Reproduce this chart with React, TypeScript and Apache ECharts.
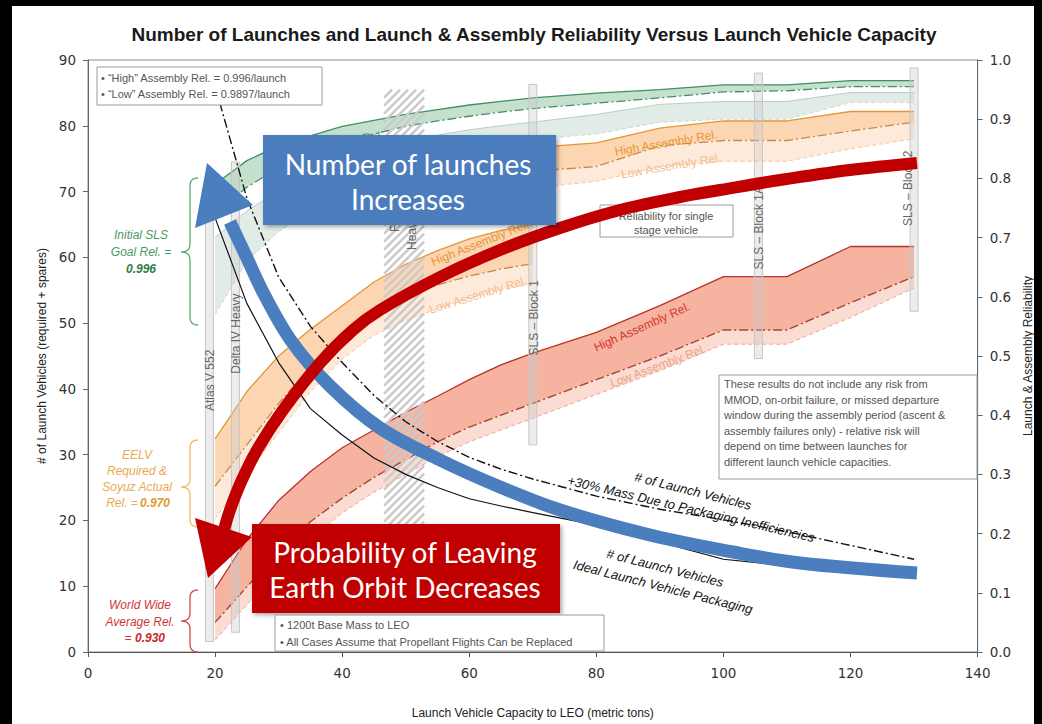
import React, { useEffect, useRef } from 'react';
import * as echarts from 'echarts';

// ---------------- DATA ----------------
const capacity = [20, 25, 30, 35, 40, 45, 50, 55, 60, 65, 70, 80, 90, 100, 110, 120, 130];
// left axis: number of launch vehicles
const launchesIdeal = [66, 53, 44, 37, 33, 29.5, 27, 25, 23.3, 22.2, 21.2, 19.3, 16.7, 14.1, 13.1, 12.1, 12.1];
const launchesPackaging = [86, 69, 57, 49.5, 44, 39, 35, 32, 29.6, 27.8, 26.3, 23.7, 21.7, 20.1, 18.3, 16.2, 14.1];
// right axis: reliability
const greenHigh = [0.79, 0.83, 0.855, 0.872, 0.888, 0.898, 0.908, 0.916, 0.924, 0.93, 0.936, 0.944, 0.95, 0.958, 0.958, 0.965, 0.965];
const greenLow = [0.74, 0.785, 0.818, 0.842, 0.86, 0.875, 0.888, 0.897, 0.905, 0.912, 0.918, 0.927, 0.936, 0.946, 0.948, 0.955, 0.955];
const greenBandTop = [0.7, 0.745, 0.78, 0.808, 0.83, 0.848, 0.862, 0.873, 0.882, 0.889, 0.895, 0.908, 0.925, 0.93, 0.93, 0.945, 0.945];
const greenBandBottom = [0.57, 0.66, 0.71, 0.745, 0.775, 0.8, 0.82, 0.835, 0.848, 0.858, 0.866, 0.875, 0.895, 0.9, 0.9, 0.928, 0.928];

const orangeLeftCapacity = [20, 25, 30, 35, 40, 45, 50, 55, 60, 65, 70];
const orangeLeftHigh = [0.36, 0.44, 0.5, 0.545, 0.585, 0.625, 0.655, 0.678, 0.698, 0.712, 0.722];
const orangeLeftLow = [0.28, 0.35, 0.42, 0.48, 0.53, 0.57, 0.6, 0.62, 0.635, 0.647, 0.656];
const orangeLeftLowBottom = [0.225, 0.3, 0.37, 0.44, 0.495, 0.535, 0.56, 0.58, 0.598, 0.612, 0.622];

const orangeRightCapacity = [70, 80, 90, 100, 110, 120, 130];
const orangeRightHigh = [0.852, 0.86, 0.885, 0.897, 0.897, 0.913, 0.913];
const orangeRightLow = [0.812, 0.82, 0.855, 0.864, 0.864, 0.88, 0.895];
const orangeRightLowBottom = [0.784, 0.795, 0.82, 0.829, 0.829, 0.85, 0.867];

const redHigh = [0.107, 0.19, 0.256, 0.305, 0.345, 0.375, 0.405, 0.432, 0.46, 0.485, 0.505, 0.54, 0.585, 0.634, 0.634, 0.685, 0.685];
const redLow = [0.05, 0.11, 0.17, 0.22, 0.26, 0.295, 0.325, 0.355, 0.38, 0.4, 0.42, 0.46, 0.5, 0.544, 0.544, 0.59, 0.634];
const redLowBottom = [0.02, 0.08, 0.14, 0.19, 0.235, 0.27, 0.3, 0.33, 0.355, 0.375, 0.395, 0.435, 0.475, 0.52, 0.52, 0.565, 0.615];

const vehicleNames = ['Atlas V 552', 'Delta IV Heavy', 'SLS – Block 1', 'SLS – Block 1A', 'SLS – Block 2'];
const vehicleCapacity = [19.1, 23.2, 70, 105.5, 130];
const falconHeavyRange = [46.6, 52.9];

// ---------------- LAYOUT (not data) ----------------
const vehicleBarSpan = [[1.6, 66.5], [3, 74.5], [31.5, 86.3], [44.6, 88], [51.8, 88.8]];
const vehicleLabelY = [41.3, 48.4, 50.8, 64.5, 70.5];
const vehicleLabelDx = [1, 1, 1, 1, -6];

const FONT = '"Liberation Sans", Arial, sans-serif';

const pairs = (xs: number[], ys: number[]) => xs.map((x, i) => [x, ys[i]]);

function bandSeries(xs: number[], up: number[], lo: number[], color: string, z: number) {
  const rows = xs.map((x, i) => [x, up[i], lo[i]]);
  return {
    type: 'custom',
    xAxisIndex: 0,
    yAxisIndex: 1,
    z,
    silent: true,
    clip: false,
    data: rows,
    encode: { x: 0, y: [1, 2] },
    renderItem: (params: any, api: any) => {
      if (params.dataIndex !== 0) return null;
      const top = rows.map((r) => api.coord([r[0], r[1]]));
      const bot = rows.map((r) => api.coord([r[0], r[2]])).reverse();
      return { type: 'polygon', shape: { points: top.concat(bot) }, style: { fill: color } };
    },
  };
}

function lineSeries(xs: number[], ys: number[], color: string, width: number, type: any, yAxisIndex: number, z: number) {
  return {
    type: 'line',
    data: pairs(xs, ys),
    yAxisIndex,
    symbol: 'none',
    showSymbol: false,
    silent: true,
    z,
    lineStyle: { color, width, type },
  };
}

const DASHDOT = [9, 3, 2, 3];
const DASH = [4, 3];

function brace(x: number, y0: number, y1: number, ym: number, color: string) {
  const pts: number[][] = [];
  const q = (p0: number[], c: number[], p1: number[]) => {
    for (let i = 0; i <= 8; i++) {
      const t = i / 8;
      pts.push([
        (1 - t) * (1 - t) * p0[0] + 2 * (1 - t) * t * c[0] + t * t * p1[0],
        (1 - t) * (1 - t) * p0[1] + 2 * (1 - t) * t * c[1] + t * t * p1[1],
      ]);
    }
  };
  q([x + 8, y0], [x, y0], [x, y0 + 8]);
  q([x, ym - 8], [x, ym], [x - 9, ym]);
  q([x - 9, ym], [x, ym], [x, ym + 8]);
  q([x, y1 - 8], [x, y1], [x + 8, y1]);
  return { type: 'polyline', z: 5, shape: { points: pts }, style: { stroke: color, lineWidth: 1.3, fill: null } };
}

function txt(x: number, y: number, text: string, opts: any = {}) {
  const align = opts.align || 'center';
  const valign = opts.valign || 'middle';
  return {
    type: 'text',
    x,
    y,
    z: opts.z ?? 6,
    rotation: opts.rotation || 0,
    style: {
      text,
      fill: opts.color || '#555',
      font: `${opts.style || 'normal'} ${opts.weight || 'normal'} ${opts.size || 11}px ${opts.family || FONT}`,
      textAlign: align,
      textVerticalAlign: valign,
      align,
      verticalAlign: valign,
    },
  };
}

function box(x: number, y: number, w: number, h: number, z: number, fill = '#fff', stroke: any = '#9a9a9a', extra: any = {}) {
  return { type: 'rect', z, shape: { x, y, width: w, height: h }, style: { fill, stroke, lineWidth: 1, ...extra } };
}

function buildOption() {
  const series: any[] = [];
  // bands
  series.push(bandSeries(capacity, greenBandTop, greenBandBottom, '#e1ece6', 1));
  series.push(bandSeries(capacity, greenHigh, greenLow, '#c3e1cd', 1));
  series.push(bandSeries(orangeLeftCapacity, orangeLeftLow, orangeLeftLowBottom, '#feeadb', 1));
  series.push(bandSeries(orangeLeftCapacity, orangeLeftHigh, orangeLeftLow, '#fcd6b2', 1));
  series.push(bandSeries(orangeRightCapacity, orangeRightLow, orangeRightLowBottom, '#feeadb', 1));
  series.push(bandSeries(orangeRightCapacity, orangeRightHigh, orangeRightLow, '#fcd6b2', 1));
  series.push(bandSeries(capacity, redLow, redLowBottom, '#fbdcd2', 1));
  series.push(bandSeries(capacity, redHigh, redLow, '#f6b3a0', 1));
  // band lines
  series.push(lineSeries(capacity, greenHigh, '#3f8f5f', 1.3, 'solid', 1, 2));
  series.push(lineSeries(capacity, greenLow, '#4d8a68', 1.3, DASHDOT, 1, 2));
  series.push(lineSeries(capacity, greenBandTop, '#b5cfc1', 1, 'solid', 1, 2));
  series.push(lineSeries(capacity, greenBandBottom, '#c8dad0', 1, DASH, 1, 2));
  series.push(lineSeries(orangeLeftCapacity, orangeLeftHigh, '#e3963a', 1.3, 'solid', 1, 2));
  series.push(lineSeries(orangeLeftCapacity, orangeLeftLow, '#c58a4a', 1.3, DASHDOT, 1, 2));
  series.push(lineSeries(orangeLeftCapacity, orangeLeftLowBottom, '#f5c59c', 1, DASH, 1, 2));
  series.push(lineSeries(orangeRightCapacity, orangeRightHigh, '#e3963a', 1.3, 'solid', 1, 2));
  series.push(lineSeries(orangeRightCapacity, orangeRightLow, '#c58a4a', 1.3, DASHDOT, 1, 2));
  series.push(lineSeries(orangeRightCapacity, orangeRightLowBottom, '#f5c59c', 1, DASH, 1, 2));
  series.push(lineSeries(capacity, redHigh, '#b8322a', 1.3, 'solid', 1, 2));
  series.push(lineSeries(capacity, redLow, '#a8443a', 1.4, DASHDOT, 1, 2));
  series.push(lineSeries(capacity, redLowBottom, '#f0a592', 1, DASH, 1, 2));

  // vehicle bars
  const vrows = vehicleCapacity.map((c, i) => [c, vehicleBarSpan[i][0], vehicleBarSpan[i][1], vehicleLabelY[i], i]);
  series.push({
    type: 'custom',
    xAxisIndex: 0,
    yAxisIndex: 0,
    z: 3,
    silent: true,
    clip: false,
    data: vrows,
    encode: { x: 0, y: [1, 2] },
    renderItem: (params: any, api: any) => {
      const r = vrows[params.dataIndex];
      const pTop = api.coord([r[0], r[2]]);
      const pBot = api.coord([r[0], r[1]]);
      const pLab = api.coord([r[0], r[3]]);
      return {
        type: 'group',
        children: [
          {
            type: 'rect',
            shape: { x: pTop[0] - 4, y: pTop[1], width: 8, height: pBot[1] - pTop[1] },
            style: { fill: 'rgba(200,200,200,0.35)', stroke: '#c6c6c6', lineWidth: 1 },
          },
          {
            type: 'text',
            x: pLab[0] + vehicleLabelDx[r[4]],
            y: pLab[1],
            rotation: Math.PI / 2,
            style: {
              text: vehicleNames[r[4]],
              fill: '#666',
              font: `normal 12px ${FONT}`,
              textAlign: 'center',
              textVerticalAlign: 'middle',
              align: 'center',
              verticalAlign: 'middle',
            },
          },
        ],
      };
    },
  });
  // Falcon Heavy hatched range
  const frow = [[falconHeavyRange[0], falconHeavyRange[1], 8, 85.5]];
  series.push({
    type: 'custom',
    xAxisIndex: 0,
    yAxisIndex: 0,
    z: 3,
    silent: true,
    clip: false,
    data: frow,
    encode: { x: [0, 1], y: [2, 3] },
    renderItem: (params: any, api: any) => {
      const r = frow[params.dataIndex];
      const a = api.coord([r[0], r[3]]);
      const b = api.coord([r[1], r[2]]);
      const x0 = a[0], y0 = a[1], x1 = b[0], y1 = b[1];
      const children: any[] = [];
      for (let c = x0 + y0; c <= x1 + y1; c += 8) {
        const xa = Math.max(x0, c - y1);
        const xb = Math.min(x1, c - y0);
        if (xa < xb) {
          children.push({
            type: 'line',
            shape: { x1: xa, y1: c - xa, x2: xb, y2: c - xb },
            style: { stroke: '#cacaca', lineWidth: 2.5 },
          });
        }
      }
      return { type: 'group', children };
    },
  });

  // launch vehicle count lines
  series.push(lineSeries(capacity, launchesIdeal, '#111', 1.2, 'solid', 0, 4));
  series.push(lineSeries(capacity, launchesPackaging, '#111', 1.4, DASHDOT, 0, 4));

  const bluePts = [
    [917, 573], [800, 563], [733, 552], [650, 535], [560, 510], [500, 487], [440, 460], [380, 428],
    [330, 386], [292, 342], [265, 296], [246, 256], [230, 222],
  ];
  const redPts = [
    [917, 163], [850, 170], [780, 180], [720, 190], [680, 197], [620, 210], [560, 228], [500, 250],
    [440, 277], [380, 310], [353, 330], [320, 363], [283, 410], [257, 450], [241, 482], [230, 510], [224, 530],
  ];

  const graphic: any[] = [
    { type: 'rect', z: -10, shape: { x: 12, y: 6, width: 1022, height: 718 }, style: { fill: '#fff' } },
    txt(534, 34, 'Number of Launches and Launch & Assembly Reliability Versus Launch Vehicle Capacity', {
      size: 19, weight: 'bold', color: '#1a1a1a', z: 6,
    }),
    // band labels
    txt(642, 327, 'High Assembly Rel.', { color: '#d03a2a', size: 12, rotation: 0.42, z: 5 }),
    txt(658, 366, 'Low Assembly Rel.', { color: '#eea08a', size: 12, rotation: 0.36, z: 5 }),
    txt(666, 143, 'High Assembly Rel.', { color: '#e8962e', size: 12, rotation: 0.17, z: 5 }),
    txt(671, 166, 'Low Assembly Rel.', { color: '#f5bc8a', size: 12, rotation: 0.17, z: 5 }),
    txt(480, 243, 'High Assembly Rel.', { color: '#e8962e', size: 12, rotation: 0.38, z: 5 }),
    txt(478, 295, 'Low Assembly Rel.', { color: '#f5bc8a', size: 12, rotation: 0.3, z: 5 }),
    txt(332, 142, 'High Assembly Rel.', { color: '#3d8a5a', size: 12, rotation: 0.12, z: 5 }),
    // Falcon Heavy
    txt(395, 232, 'Falcon', { color: '#666', size: 12, rotation: Math.PI / 2, align: 'left', z: 5 }),
    txt(412, 250, 'Heavy', { color: '#666', size: 12, rotation: Math.PI / 2, align: 'left', z: 5 }),
    // black line labels
    txt(693, 491, '# of Launch Vehicles', { color: '#111', size: 13, style: 'italic', rotation: -0.245, z: 6 }),
    txt(691, 509, '+30% Mass Due to Packaging Inefficiencies', { color: '#111', size: 13, style: 'italic', rotation: -0.23, z: 6 }),
    txt(665, 568, '# of Launch Vehicles', { color: '#111', size: 13, style: 'italic', rotation: -0.25, z: 6 }),
    txt(663, 587, 'Ideal Launch Vehicle Packaging', { color: '#111', size: 13, style: 'italic', rotation: -0.25, z: 6 }),
    // braces
    brace(190, 178, 325, 252, '#5aa872'),
    brace(190, 440, 527, 487, '#f0b860'),
    brace(190, 590, 652, 621, '#d04848'),
    txt(141, 235, 'Initial SLS', { color: '#4a9a66', size: 12, style: 'italic' }),
    txt(141, 252, 'Goal Rel. =', { color: '#4a9a66', size: 12, style: 'italic' }),
    txt(141, 269, '0.996', { color: '#2e7d46', size: 12, style: 'italic', weight: 'bold' }),
    txt(137, 455, 'EELV', { color: '#e8aa50', size: 12, style: 'italic' }),
    txt(137, 471, 'Required &', { color: '#e8aa50', size: 12, style: 'italic' }),
    txt(137, 487, 'Soyuz Actual', { color: '#e8aa50', size: 12, style: 'italic' }),
    txt(122, 503, 'Rel. =', { color: '#e8aa50', size: 12, style: 'italic' }),
    txt(155, 503, '0.970', { color: '#e09a2a', size: 12, style: 'italic', weight: 'bold' }),
    txt(140, 605, 'World Wide', { color: '#d03838', size: 12, style: 'italic' }),
    txt(140, 622, 'Average Rel.', { color: '#d03838', size: 12, style: 'italic' }),
    txt(128, 638, '=', { color: '#d03838', size: 12, style: 'italic' }),
    txt(150, 638, '0.930', { color: '#c82828', size: 12, style: 'italic', weight: 'bold' }),
    // single stage box
    box(600, 205, 133, 32, 6),
    txt(666, 216, 'Reliability for single', { size: 11, color: '#555', z: 6 }),
    txt(666, 230, 'stage vehicle', { size: 11, color: '#555', z: 6 }),
    // note box
    box(719, 375, 258, 104, 6),
    txt(724, 384, 'These results do not include any risk from', { size: 11, align: 'left', z: 6 }),
    txt(724, 399.5, 'MMOD, on-orbit failure, or missed departure', { size: 11, align: 'left', z: 6 }),
    txt(724, 415, 'window during the assembly period (ascent &', { size: 11, align: 'left', z: 6 }),
    txt(724, 430.5, 'assembly failures only) - relative risk will', { size: 11, align: 'left', z: 6 }),
    txt(724, 446, 'depend on time between launches for', { size: 11, align: 'left', z: 6 }),
    txt(724, 461.5, 'different launch vehicle capacities.', { size: 11, align: 'left', z: 6 }),
    // arrows
    {
      type: 'polyline', z: 7, shape: { points: bluePts, smooth: 0.35 },
      style: { stroke: '#4a7ebf', lineWidth: 13, fill: null, lineCap: 'butt' },
    },
    { type: 'polygon', z: 7, shape: { points: [[207, 163], [195, 228], [253, 205]] }, style: { fill: '#4a7ebf' } },
    {
      type: 'polyline', z: 8, shape: { points: redPts, smooth: 0.35 },
      style: { stroke: '#c00000', lineWidth: 12, fill: null, lineCap: 'butt' },
    },
    { type: 'polygon', z: 8, shape: { points: [[208, 578], [195, 518], [252, 537]] }, style: { fill: '#c00000' } },
    // callout boxes
    box(263, 135, 293, 90, 9, '#4b7dbd', null, { shadowBlur: 4, shadowColor: 'rgba(0,0,0,0.35)', shadowOffsetX: 2, shadowOffsetY: 2 }),
    txt(408, 164, 'Number of launches', { size: 28, color: '#fff', family: 'Lato, sans-serif', z: 10 }),
    txt(408, 199, 'Increases', { size: 28, color: '#fff', family: 'Lato, sans-serif', z: 10 }),
    box(252, 524, 308, 89, 9, '#c00000', null, { shadowBlur: 4, shadowColor: 'rgba(0,0,0,0.35)', shadowOffsetX: 2, shadowOffsetY: 2 }),
    txt(405, 552, 'Probability of Leaving', { size: 28, color: '#fff', family: 'Lato, sans-serif', z: 10 }),
    txt(405, 587, 'Earth Orbit Decreases', { size: 28, color: '#fff', family: 'Lato, sans-serif', z: 10 }),
    // legend boxes
    box(97, 67, 225, 38, 9),
    txt(101, 78, '• “High” Assembly Rel. = 0.996/launch', { size: 11, align: 'left', z: 10 }),
    txt(101, 94, '• “Low” Assembly Rel. = 0.9897/launch', { size: 11, align: 'left', z: 10 }),
    box(275, 615, 329, 36, 9),
    txt(280, 625, '• 1200t Base Mass to LEO', { size: 11, align: 'left', z: 10 }),
    txt(280, 642, '• All Cases Assume that Propellant Flights Can be Replaced', { size: 11, align: 'left', z: 10 }),
  ];

  const tickFont = { fontFamily: '"DejaVu Sans", Verdana, sans-serif', fontSize: 13.5, color: '#333' };

  return {
    animation: false,
    backgroundColor: '#000',
    grid: { left: 88, right: 62, top: 60, bottom: 63, show: true, borderColor: '#8a8a8a', borderWidth: 1, backgroundColor: 'transparent' },
    xAxis: {
      type: 'value', min: 0, max: 140, interval: 20,
      name: 'Launch Vehicle Capacity to LEO (metric tons)', nameLocation: 'middle', nameGap: 55,
      nameTextStyle: { fontFamily: FONT, fontSize: 12, color: '#222' },
      axisLine: { lineStyle: { color: '#555' } },
      axisTick: { show: true, length: 5, lineStyle: { color: '#555' } },
      axisLabel: { ...tickFont, margin: 14 },
      splitLine: { show: false },
    },
    yAxis: [
      {
        type: 'value', min: 0, max: 90, interval: 10, position: 'left',
        name: '# of Launch Vehicles (required + spares)', nameLocation: 'middle', nameGap: 40,
        nameTextStyle: { fontFamily: FONT, fontSize: 12, color: '#222' },
        axisLine: { show: true, lineStyle: { color: '#666' } },
        axisTick: { show: true, length: 5, lineStyle: { color: '#666' } },
        axisLabel: { ...tickFont, margin: 12 },
        splitLine: { show: false },
      },
      {
        type: 'value', min: 0, max: 1, interval: 0.1, position: 'right',
        name: 'Launch & Assembly Reliability', nameLocation: 'middle', nameGap: 42,
        nameTextStyle: { fontFamily: FONT, fontSize: 12, color: '#222' },
        axisLine: { show: true, lineStyle: { color: '#666' } },
        axisTick: { show: true, length: 5, lineStyle: { color: '#666' } },
        axisLabel: { ...tickFont, margin: 12, formatter: (v: number) => v.toFixed(1) },
        splitLine: { show: false },
      },
    ],
    series,
    graphic,
  };
}

export default function App() {
  const ref = useRef<HTMLDivElement>(null);
  useEffect(() => {
    const chart = echarts.init(ref.current!, null, { renderer: 'svg' });
    chart.setOption(buildOption() as any);
    return () => chart.dispose();
  }, []);
  return <div ref={ref} style={{ position: 'absolute', left: 0, top: 0, width: 1042, height: 724 }} />;
}
